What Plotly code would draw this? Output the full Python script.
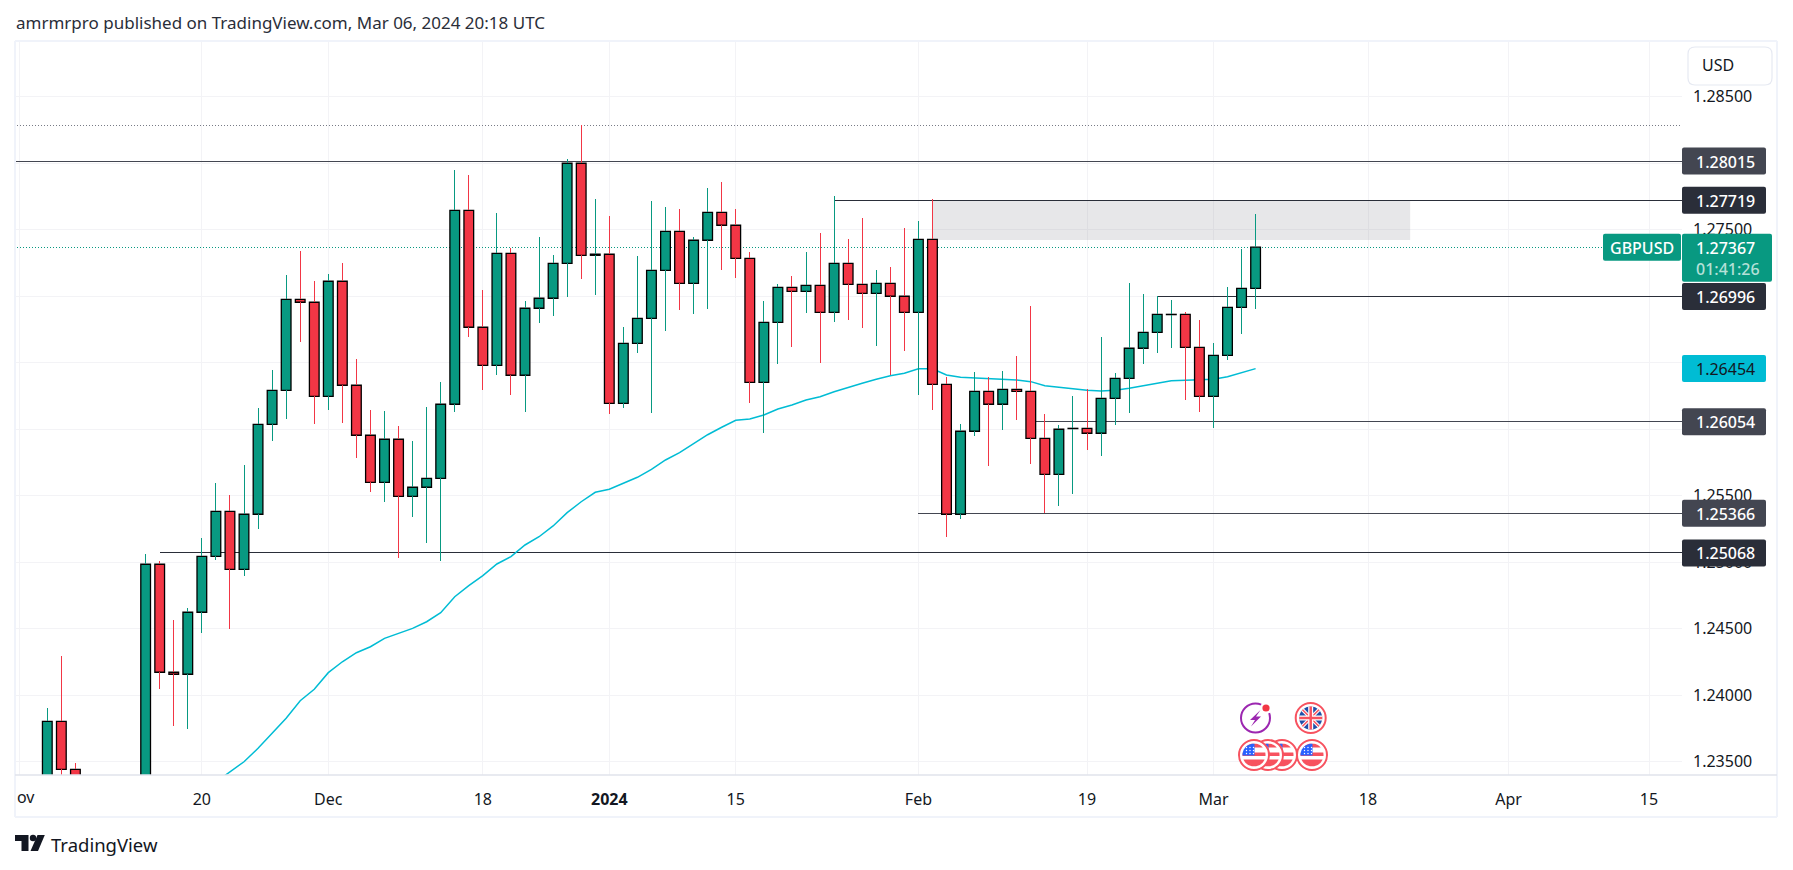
import math
import plotly.graph_objects as go

# ---------- data ----------
opens = [1.2320, 1.23802, 1.23441, None, None, None, None, 1.2300, 1.24983, 1.24171, 1.24156, 1.24622, 1.25043,
         1.25381, 1.24945, 1.25359, 1.26035, 1.26291, 1.26975, 1.26953, 1.26246, 1.27111, 1.26329, 1.25953,
         1.25599, 1.25923, 1.25494, 1.25562, 1.25629, 1.26186, 1.27644, 1.26765, 1.26479, 1.27321, 1.26404,
         1.26908, 1.26983, 1.27246, 1.27998, 1.27306, 1.27314, 1.26193, 1.26644, 1.26832, 1.27193, 1.27486,
         1.27095, 1.27419, 1.27629, 1.27532, 1.27283, 1.26351, 1.26802, 1.27065, 1.27035, 1.27080, 1.26877,
         1.27246, 1.27088, 1.27020, 1.27095, 1.26998, 1.26877, 1.27426, 1.26336, 1.25359, 1.25983, 1.26283,
         1.26186, 1.26298, 1.26283, 1.25930, 1.25659, 1.26003, 1.26005, 1.25968, 1.26231, 1.26381, 1.26607,
         1.26727, 1.26860, 1.26862, 1.26614, 1.26246, 1.26554, 1.26915, 1.27058]
highs = [1.23902, 1.24293, 1.23489, None, None, None, None, 1.25060, 1.25008, 1.24564, 1.24654, 1.25180, 1.25594,
         1.25504, 1.25729, 1.26158, 1.26444, 1.27158, 1.27338, 1.27113, 1.27165, 1.27248, 1.26526, 1.26143,
         1.26135, 1.26023, 1.25910, 1.26165, 1.26353, 1.27947, 1.27910, 1.27045, 1.27624, 1.27361, 1.26962,
         1.27444, 1.27308, 1.28030, 1.28283, 1.27729, 1.27602, 1.26767, 1.27301, 1.27714, 1.27669, 1.27654,
         1.27444, 1.27812, 1.27857, 1.27654, 1.27329, 1.26962, 1.27090, 1.27150, 1.27331, 1.27474, 1.27752,
         1.27429, 1.27586, 1.27195, 1.27218, 1.27511, 1.27564, 1.27729, 1.26391, 1.26038, 1.26429, 1.26391,
         1.26436, 1.26549, 1.26925, 1.26113, 1.26028, 1.26248, 1.26298, 1.26692, 1.26421, 1.27098, 1.27015,
         1.27000, 1.26970, 1.26880, 1.26820, 1.26647, 1.27068, 1.27353, 1.27617]
lows = [1.2300, 1.2320, 1.2320, None, None, None, None, 1.2290, 1.24045, 1.23769, 1.23747, 1.24468, 1.25015,
        1.24499, 1.24897, 1.25248, 1.25910, 1.26077, 1.26656, 1.26040, 1.26145, 1.26047, 1.25784, 1.25526,
        1.25451, 1.25030, 1.25338, 1.25143, 1.25008, 1.26128, 1.26692, 1.26293, 1.26406, 1.26256, 1.26128,
        1.26799, 1.26852, 1.26995, 1.27130, 1.27008, 1.26115, 1.26160, 1.26574, 1.26123, 1.26739, 1.26895,
        1.26867, 1.26905, 1.27198, 1.27138, 1.26198, 1.25972, 1.26491, 1.26619, 1.26874, 1.26498, 1.26807,
        1.26822, 1.26762, 1.26626, 1.26406, 1.26589, 1.26258, 1.26145, 1.25190, 1.25326, 1.25950, 1.25724,
        1.25995, 1.26070, 1.25739, 1.25366, 1.25423, 1.25514, 1.25844, 1.25799, 1.26032, 1.26123, 1.26491,
        1.26574, 1.26611, 1.26220, 1.26130, 1.26010, 1.26521, 1.26717, 1.26902]
closes = [1.23802, 1.23441, 1.2330, None, None, None, None, 1.24983, 1.24171, 1.24156, 1.24622, 1.25043, 1.25381,
          1.24945, 1.25359, 1.26035, 1.26291, 1.26975, 1.26953, 1.26246, 1.27111, 1.26329, 1.25953, 1.25599,
          1.25923, 1.25494, 1.25562, 1.25629, 1.26186, 1.27644, 1.26765, 1.26479, 1.27321, 1.26404, 1.26908,
          1.26983, 1.27246, 1.27998, 1.27306, 1.27314, 1.26193, 1.26644, 1.26832, 1.27193, 1.27486, 1.27095,
          1.27419, 1.27629, 1.27532, 1.27283, 1.26351, 1.26802, 1.27065, 1.27035, 1.27080, 1.26877, 1.27246,
          1.27088, 1.27020, 1.27095, 1.26998, 1.26877, 1.27426, 1.26336, 1.25359, 1.25983, 1.26283, 1.26186,
          1.26298, 1.26283, 1.25930, 1.25659, 1.25998, 1.26005, 1.25968, 1.26231, 1.26381, 1.26607, 1.26727,
          1.26862, 1.26862, 1.26614, 1.26246, 1.26554, 1.26915, 1.27058, 1.27367]

ema_start = 12
ema_values = [1.23346, 1.23419, 1.23498, 1.23599, 1.23712, 1.23825, 1.23957, 1.24043, 1.24168, 1.24250, 1.24318,
              1.24363, 1.24426, 1.24464, 1.24501, 1.24551, 1.24619, 1.24739, 1.24822, 1.24897, 1.24985, 1.25040,
              1.25128, 1.25190, 1.25271, 1.25371, 1.25453, 1.25524, 1.25547, 1.25592, 1.25637, 1.25697, 1.25767,
              1.25822, 1.25892, 1.25957, 1.26013, 1.26065, 1.26075, 1.26105, 1.26150, 1.26180, 1.26218, 1.26243,
              1.26280, 1.26314, 1.26344, 1.26374, 1.26401, 1.26419, 1.26453, 1.26453, 1.26406, 1.26389, 1.26383,
              1.26378, 1.26376, 1.26368, 1.26356, 1.26326, 1.26314, 1.26303, 1.26291, 1.26286, 1.26291, 1.26306,
              1.26323, 1.26344, 1.26363, 1.26368, 1.26371, 1.26374, 1.26393, 1.26423, 1.26454]

x_tick_bars = [-2, 11, 20, 31, 40, 49, 62, 74, 83, 94, 104, 114]
x_tick_text = ["", "20", "Dec", "18", "<b>2024</b>", "15", "Feb", "19", "Mar", "18", "Apr", "15"]
y_tick_values = [1.285, 1.28, 1.275, 1.27, 1.265, 1.26, 1.255, 1.25, 1.245, 1.24, 1.235]

level_prices = [1.28283, 1.28015, 1.27719, 1.27367, 1.26996, 1.26054, 1.25366, 1.25068]
level_start_bars = [-3, -3, 56, -3, 79, 70, 62, 8]
zone_prices = [1.27421, 1.27719]
zone_bars = [63, 97]

price_labels = ["1.28015", "1.27719", "1.26996", "1.26454", "1.26054", "1.25366", "1.25068"]
price_label_values = [1.28015, 1.27719, 1.26996, 1.26454, 1.26054, 1.25366, 1.25068]
last_price_text = "1.27367"
last_price = 1.27367
symbol = "GBPUSD"
countdown = "01:41:26"

# ---------- styles and layout ----------
W, H = 1793, 870
PANE_L, PANE_R, PANE_T, PANE_B = 15.5, 1682.0, 41.5, 775.0
BAR0_PX, BAR_STEP = 47.3, 14.05
PX_PER_PRICE = 13300.0
X_RANGE = [(PANE_L - BAR0_PX) / BAR_STEP, (PANE_R - BAR0_PX) / BAR_STEP]
Y_RANGE = [1.285 - (PANE_B - 96.5) / PX_PER_PRICE, 1.285 + (96.5 - PANE_T) / PX_PER_PRICE]
GREEN, RED, CYAN = "#089981", "#f23645", "#00bcd4"
DARK1, DARK2 = "#2a2e39", "#434651"
FONT = "Noto Sans"
GRID = "#f3f3f6"
FRAME = "#f0f3fa"
level_styles = [("#787b86", "1px,2px"), (DARK2, "solid"), (DARK1, "solid"), (GREEN, "1px,2px"),
                (DARK1, "solid"), (DARK2, "solid"), (DARK2, "solid"), (DARK1, "solid")]
label_colors = [DARK2, DARK1, DARK1, CYAN, DARK2, DARK2, DARK1]


def fx(px):
    return px / W


def fy(py):
    return 1 - py / H


fig = go.Figure()

# levels and EMA sit on the base axes, candles on an overlay so they cover them
for price, start, (col, dash) in zip(level_prices, level_start_bars, level_styles):
    fig.add_trace(go.Scatter(x=[start, X_RANGE[1]], y=[price, price], mode="lines",
                             line=dict(color=col, width=1, dash=dash), hoverinfo="skip", showlegend=False))
fig.add_trace(go.Scatter(x=list(range(ema_start, ema_start + len(ema_values))), y=ema_values, mode="lines",
                         line=dict(color=CYAN, width=1.5), hoverinfo="skip", showlegend=False))

bars = [i for i, o in enumerate(opens) if o is not None]
fig.add_trace(go.Bar(x=bars, base=[min(opens[i], closes[i]) for i in bars],
                     y=[abs(closes[i] - opens[i]) for i in bars], width=0.69,
                     marker=dict(color=[GREEN if closes[i] >= opens[i] else RED for i in bars],
                                 line=dict(color="#000000", width=1.3)),
                     xaxis="x2", yaxis="y2", hoverinfo="skip", showlegend=False))
for is_up, col in ((True, GREEN), (False, RED)):
    wx, wy = [], []
    for i in bars:
        if (closes[i] >= opens[i]) == is_up:
            wx += [i, i, None, i, i, None]
            wy += [lows[i], min(opens[i], closes[i]), None, max(opens[i], closes[i]), highs[i], None]
    fig.add_trace(go.Scatter(x=wx, y=wy, mode="lines", line=dict(color=col, width=1),
                             xaxis="x2", yaxis="y2", hoverinfo="skip", showlegend=False))

shapes = []
annotations = []


def paper_shape(**kw):
    shapes.append(dict(xref="paper", yref="paper", layer="above", **kw))


def rrect(x0, y0, x1, y1, r, fill, line=None, lw=0):
    p = (f"M {fx(x0 + r)} {fy(y0)} L {fx(x1 - r)} {fy(y0)} Q {fx(x1)} {fy(y0)} {fx(x1)} {fy(y0 + r)} "
         f"L {fx(x1)} {fy(y1 - r)} Q {fx(x1)} {fy(y1)} {fx(x1 - r)} {fy(y1)} L {fx(x0 + r)} {fy(y1)} "
         f"Q {fx(x0)} {fy(y1)} {fx(x0)} {fy(y1 - r)} L {fx(x0)} {fy(y0 + r)} Q {fx(x0)} {fy(y0)} {fx(x0 + r)} {fy(y0)} Z")
    paper_shape(type="path", path=p, fillcolor=fill, line=dict(color=line or fill, width=lw))


def disc(cx, cy, r, fill, line=None, lw=0):
    paper_shape(type="circle", x0=fx(cx - r), x1=fx(cx + r), y0=fy(cy + r), y1=fy(cy - r),
                fillcolor=fill, line=dict(color=line or fill, width=lw))


def poly(points, fill):
    p = "M " + " L ".join(f"{fx(a)} {fy(b)}" for a, b in points) + " Z"
    paper_shape(type="path", path=p, fillcolor=fill, line=dict(color=fill, width=0))


def band(cx, cy, r, y0, y1, fill, xmax=None):
    """Polygon of a disc cut to y0..y1 (pixels relative to the centre)."""
    steps = 10
    right, left = [], []
    for k in range(steps + 1):
        y = y0 + (y1 - y0) * k / steps
        half = math.sqrt(max(r * r - y * y, 0))
        right.append((cx + (min(half, xmax) if xmax is not None else half), cy + y))
        left.append((cx - half, cy + y))
    poly(right + left[::-1], fill)


def seg(x0, y0, x1, y1, col, w):
    paper_shape(type="line", x0=fx(x0), x1=fx(x1), y0=fy(y0), y1=fy(y1), line=dict(color=col, width=w))


def text(x, y, s, size=16, color="#131722", xanchor="left", yref="paper", weight=None):
    annotations.append(dict(x=fx(x), y=(fy(y) if yref == "paper" else y), xref="paper", yref=yref, text=s,
                            showarrow=False, xanchor=xanchor, yanchor="middle",
                            font=dict(family=FONT, size=size, color=color, weight=weight), borderpad=0))


# demand / supply zone
shapes.append(dict(type="rect", xref="x", yref="y", layer="between", x0=zone_bars[0], x1=zone_bars[1],
                   y0=zone_prices[0], y1=zone_prices[1], fillcolor="rgba(120,123,134,0.18)", line=dict(width=0)))

# frame of the widget
paper_shape(type="line", x0=fx(15), x1=fx(15), y0=fy(41), y1=fy(817), line=dict(color=FRAME, width=2))
paper_shape(type="line", x0=fx(15), x1=fx(1777), y0=fy(41), y1=fy(41), line=dict(color=FRAME, width=2))
paper_shape(type="line", x0=fx(1777), x1=fx(1777), y0=fy(41), y1=fy(817), line=dict(color=FRAME, width=2))
paper_shape(type="line", x0=fx(15), x1=fx(1777), y0=fy(817), y1=fy(817), line=dict(color=FRAME, width=2))
paper_shape(type="line", x0=fx(15), x1=fx(1777), y0=fy(775), y1=fy(775), line=dict(color="#e0e3eb", width=1.5))

# USD button
rrect(1688, 47, 1772, 85, 7, "#ffffff", "#e6e9f2", 1.2)
text(1718, 65.5, "USD", xanchor="center")

# price labels on the scale
half = 13.5 / PX_PER_PRICE
for label, value, col in zip(price_labels, price_label_values, label_colors):
    py = 96.5 + (1.285 - value) * PX_PER_PRICE
    rrect(1682, py - 13.5, 1766, py + 13.5, 2, col)
    text(1695, py + 0.5, label, color="#131722" if col == CYAN else "#ffffff",
         weight=None if col == CYAN else 500)
last_py = 96.5 + (1.285 - last_price) * PX_PER_PRICE
rrect(1682, last_py - 13.5, 1772, last_py + 34.5, 2, GREEN)
rrect(1603, last_py - 13.5, 1681, last_py + 13.5, 2, GREEN)
text(1642, last_py + 0.5, symbol, color="#ffffff", xanchor="center", weight=500)
text(1695, last_py + 0.5, last_price_text, color="#ffffff", weight=500)
text(1695, last_py + 22, countdown, color="#b5e0d8", weight=500)

# header and brand
text(14.5, 23, "amrmrpro published on TradingView.com, Mar 06, 2024 20:18 UTC", size=17, color="#2a2e39")
text(50, 844.5, "TradingView", size=18.5, color="#131722")
poly([(15, 835), (28.5, 835), (28.5, 851), (21.5, 851), (21.5, 841), (15, 841)], "#131722")
disc(33, 838, 3.2, "#131722")
poly([(37.5, 835), (44.8, 835), (38, 851), (30.5, 851)], "#131722")
text(16, 797, "ov", xanchor="left")

# event icons
LIGHT_RED = "#f7525f"
disc(1255.5, 718, 14.5, "#ffffff", "#9c27b0", 2)
poly([(1260.5, 710), (1250, 720), (1255, 720), (1251, 726.5), (1261, 716.5), (1256, 716.5)], "#9c27b0")
disc(1266, 708, 6, "#ffffff")
disc(1266, 708, 3.6, RED)

ukx, uky = 1310.7, 718
disc(ukx, uky, 15, "#ffffff", LIGHT_RED, 2)
disc(ukx, uky, 11.5, "#1f4fa8")
d = 8.2
seg(ukx - d, uky - d, ukx + d, uky + d, "#ffffff", 3.5)
seg(ukx - d, uky + d, ukx + d, uky - d, "#ffffff", 3.5)
seg(ukx - d, uky - d, ukx + d, uky + d, LIGHT_RED, 1.5)
seg(ukx - d, uky + d, ukx + d, uky - d, LIGHT_RED, 1.5)
seg(ukx - 11.5, uky, ukx + 11.5, uky, "#ffffff", 5)
seg(ukx, uky - 11.5, ukx, uky + 11.5, "#ffffff", 5)
seg(ukx - 11.5, uky, ukx + 11.5, uky, LIGHT_RED, 2.5)
seg(ukx, uky - 11.5, ukx, uky + 11.5, LIGHT_RED, 2.5)

for usx in (1282, 1268, 1254, 1312):
    usy = 755
    disc(usx, usy, 15, "#ffffff", LIGHT_RED, 2)
    band(usx, usy, 11.5, -11.3, -7.5, LIGHT_RED)
    band(usx, usy, 11.5, -2.5, 1, LIGHT_RED)
    band(usx, usy, 11.5, 4.5, 11.3, LIGHT_RED)
    band(usx, usy, 11.5, -11.3, 0.5, "#2962ff", xmax=0.5)
    for a in (-7, -3.5, 0):
        for b in (-7.5, -4.5, -1.5):
            disc(usx + a - 0.5, usy + b, 0.7, "#ffffff")

fig.update_layout(
    width=W, height=H, autosize=False, margin=dict(l=0, r=0, t=0, b=0),
    paper_bgcolor="#ffffff", plot_bgcolor="#ffffff", showlegend=False, hovermode=False, barmode="overlay",
    font=dict(family=FONT, size=16, color="#131722"),
    xaxis=dict(domain=[fx(PANE_L), fx(PANE_R)], range=X_RANGE, tickmode="array", tickvals=x_tick_bars,
               ticktext=x_tick_text, showgrid=True, gridcolor=GRID, gridwidth=1, zeroline=False, showline=False,
               ticks="", ticklabelstandoff=13, anchor="y", tickfont=dict(family=FONT, size=16, color="#131722")),
    yaxis=dict(domain=[fy(PANE_B), fy(PANE_T)], range=Y_RANGE, side="right", tickmode="array",
               tickvals=y_tick_values, ticktext=[f"{v:.5f}" for v in y_tick_values], showgrid=True,
               gridcolor=GRID, gridwidth=1, zeroline=False, showline=False, ticks="", ticklabelstandoff=10,
               anchor="x", tickfont=dict(family=FONT, size=16, color="#131722")),
    xaxis2=dict(overlaying="x", range=X_RANGE, visible=False, anchor="y2", matches=None),
    yaxis2=dict(overlaying="y", range=Y_RANGE, visible=False, anchor="x2", side="right"),
    shapes=shapes, annotations=annotations,
)

crisp = ("document.body.style.margin='0';document.body.style.overflow='hidden';"
         "document.querySelectorAll('.scatterlayer .js-line').forEach(function(p){"
         "if(p.style.stroke.indexOf('0, 188, 212')<0){p.style.shapeRendering='crispEdges';}});")
fig.write_html("out.html", config={"displayModeBar": False, "responsive": False}, post_script=crisp)
